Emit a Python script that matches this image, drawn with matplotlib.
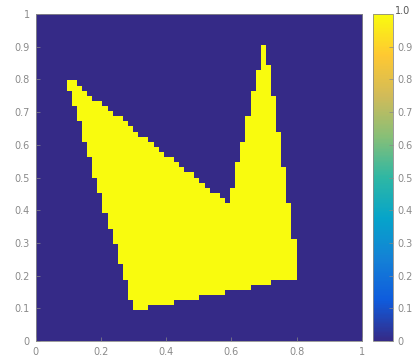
import numpy as np
import matplotlib
matplotlib.use("Agg")
import matplotlib.pyplot as plt
from matplotlib.colors import LinearSegmentedColormap
from matplotlib.path import Path

# Polygon outline of the mask region (data coordinates)
poly_x = [0.09, 0.30, 0.80, 0.80, 0.70, 0.59, 0.09]
poly_y = [0.812, 0.092, 0.195, 0.245, 0.925, 0.42, 0.812]
grid_n = 64

x_ticks = [0, 0.2, 0.4, 0.6, 0.8, 1]
x_ticklabels = ["0", "0.2", "0.4", "0.6", "0.8", "1"]
y_ticks = [0, 0.1, 0.2, 0.3, 0.4, 0.5, 0.6, 0.7, 0.8, 0.9, 1]
y_ticklabels = ["0", "0.1", "0.2", "0.3", "0.4", "0.5", "0.6", "0.7", "0.8", "0.9", "1"]
cb_ticks = [0, 0.1, 0.2, 0.3, 0.4, 0.5, 0.6, 0.7, 0.8, 0.9]
cb_ticklabels = ["0", "0.1", "0.2", "0.3", "0.4", "0.5", "0.6", "0.7", "0.8", "0.9"]

parula_colors = ["#352A87", "#0F5CDD", "#1481D6", "#06A4CA", "#2EB7A4",
                 "#87BF77", "#D1BB59", "#FEC832", "#F9FB0E"]
cmap = LinearSegmentedColormap.from_list("parula", parula_colors, N=256)

# rasterize polygon on grid
c = (np.arange(grid_n) + 0.5) / grid_n
X, Y = np.meshgrid(c, c)
path = Path(np.column_stack([poly_x, poly_y]))
mask = path.contains_points(np.column_stack([X.ravel(), Y.ravel()])).reshape(X.shape).astype(float)

fig = plt.figure(figsize=(4.12, 3.60), dpi=100)
ax = fig.add_axes([35.5/412, 19/360, 326.5/412, 327/360])
im = ax.imshow(mask, origin="lower", extent=[0, 1, 0, 1], cmap=cmap,
               vmin=0, vmax=1, interpolation="nearest", aspect="auto")
ax.set_xlim(0, 1)
ax.set_ylim(0, 1)
gray = "#8a8a8a"
ax.set_xticks(x_ticks)
ax.set_xticklabels(x_ticklabels)
ax.set_yticks(y_ticks)
ax.set_yticklabels(y_ticklabels)
ax.tick_params(direction="in", length=3, width=0.5, colors=gray, labelsize=7, pad=4)
for s in ax.spines.values():
    s.set_color(gray)
    s.set_linewidth(0.6)

cax = fig.add_axes([373/412, 19/360, 20/412, 327/360])
cb = fig.colorbar(im, cax=cax, ticks=cb_ticks)
cb.ax.set_yticklabels(cb_ticklabels)
cb.ax.tick_params(direction="in", length=3, width=0.5, colors=gray, labelsize=7, pad=3)
cb.outline.set_edgecolor(gray)
cb.outline.set_linewidth(0.6)
cax.text(1.1, 0.995, "1.0", transform=cax.transAxes, ha="left", va="bottom",
         fontsize=7, color="#555555")

fig.savefig("out.png", dpi=100, facecolor="white")
